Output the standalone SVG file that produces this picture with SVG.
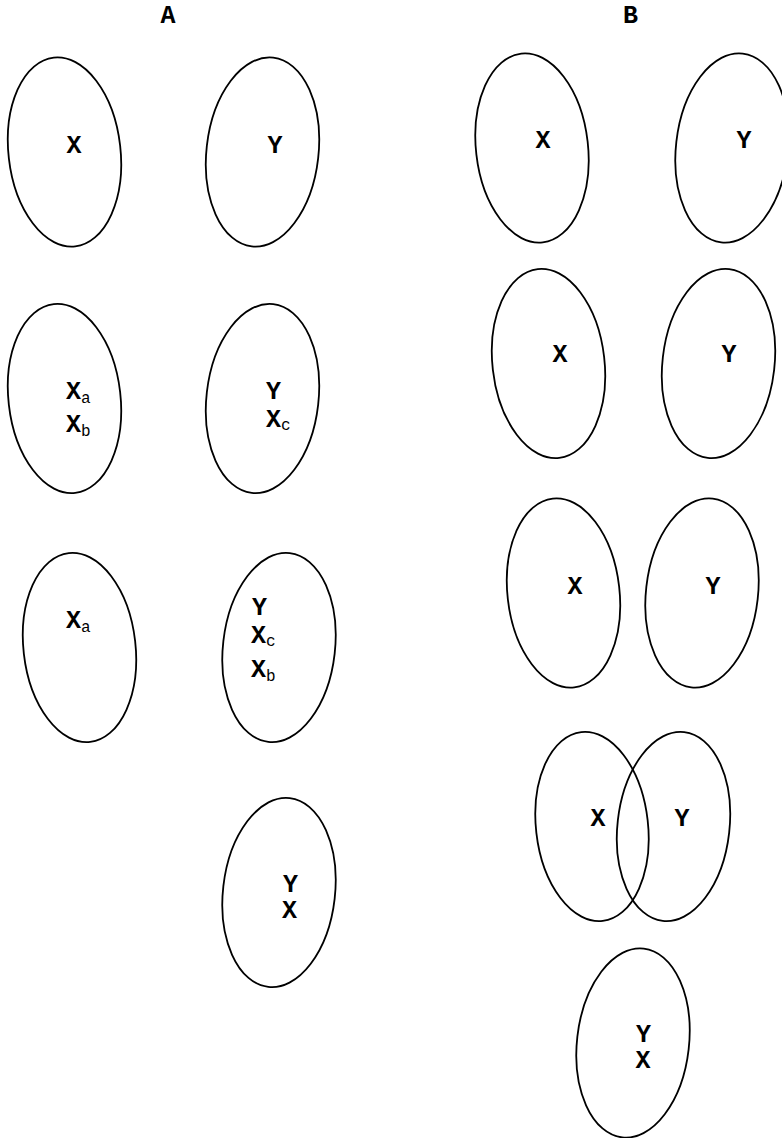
<svg xmlns="http://www.w3.org/2000/svg" width="782" height="1138" viewBox="0 0 782 1138">
<style>
.e{fill:none;stroke:#000;stroke-width:1.8}
.t{font-family:"Liberation Mono","Courier New",monospace;font-weight:bold;font-size:25px;fill:#000}
.c{text-anchor:middle}
.s{font-weight:normal;font-size:16px}
</style>
<rect width="782" height="1138" fill="#fff"/>
<g id="titles">
<text class="t c" x="168" y="23">A</text>
<text class="t c" x="630.5" y="23">B</text>
</g>
<g id="connectors"></g>
<g id="a1x"><ellipse class="e" cx="0" cy="0" rx="56" ry="95" transform="translate(64.5 152) rotate(-6.5)"/><text class="t c" x="74" y="153">X</text></g>
<g id="a1y"><ellipse class="e" cx="0" cy="0" rx="56" ry="95" transform="translate(262.5 152) rotate(6.5)"/><text class="t c" x="275" y="153">Y</text></g>
<g id="b1x"><ellipse class="e" cx="0" cy="0" rx="56" ry="95" transform="translate(532 148) rotate(-6.5)"/><text class="t c" x="543" y="148">X</text></g>
<g id="b1y"><ellipse class="e" cx="0" cy="0" rx="56" ry="95" transform="translate(732 148) rotate(6.5)"/><text class="t c" x="744" y="148">Y</text></g>
<g id="a2l"><ellipse class="e" cx="0" cy="0" rx="56" ry="95" transform="translate(64.5 398.5) rotate(-6.5)"/>
<text class="t" x="66" y="399">X<tspan class="s" dy="4">a</tspan></text>
<text class="t" x="66" y="432">X<tspan class="s" dy="4">b</tspan></text></g>
<g id="a2r"><ellipse class="e" cx="0" cy="0" rx="56" ry="95" transform="translate(262.5 398.5) rotate(6.5)"/>
<text class="t" x="266" y="399">Y</text>
<text class="t" x="266" y="427">X<tspan class="s" dy="3">c</tspan></text></g>
<g id="a3l"><ellipse class="e" cx="0" cy="0" rx="56" ry="95" transform="translate(79.5 647.5) rotate(-6.5)"/>
<text class="t" x="66" y="628">X<tspan class="s" dy="4">a</tspan></text></g>
<g id="a3r"><ellipse class="e" cx="0" cy="0" rx="56" ry="95" transform="translate(279 647.5) rotate(6.5)"/>
<text class="t" x="252" y="615">Y</text>
<text class="t" x="251" y="643">X<tspan class="s" dy="3">c</tspan></text>
<text class="t" x="251" y="677">X<tspan class="s" dy="4">b</tspan></text></g>
<g id="a4"><ellipse class="e" cx="0" cy="0" rx="56" ry="95" transform="translate(279 892.5) rotate(6.5)"/>
<text class="t c" x="290.5" y="892">Y</text>
<text class="t c" x="289.5" y="918">X</text></g>
<g id="b2x"><ellipse class="e" cx="0" cy="0" rx="56" ry="95" transform="translate(548.5 363.5) rotate(-6.5)"/><text class="t c" x="560" y="362">X</text></g>
<g id="b2y"><ellipse class="e" cx="0" cy="0" rx="56" ry="95" transform="translate(718.5 363.5) rotate(6.5)"/><text class="t c" x="729" y="362">Y</text></g>
<g id="b3x"><ellipse class="e" cx="0" cy="0" rx="56" ry="95" transform="translate(563.5 593) rotate(-6.5)"/><text class="t c" x="575" y="594">X</text></g>
<g id="b3y"><ellipse class="e" cx="0" cy="0" rx="56" ry="95" transform="translate(702 593) rotate(6.5)"/><text class="t c" x="713" y="594">Y</text></g>
<g id="b4x"><ellipse class="e" cx="0" cy="0" rx="56" ry="95" transform="translate(592 826.5) rotate(-6.5)"/><text class="t c" x="598" y="826">X</text></g>
<g id="b4y"><ellipse class="e" cx="0" cy="0" rx="56" ry="95" transform="translate(673.5 826.5) rotate(6.5)"/><text class="t c" x="682" y="826">Y</text></g>
<g id="b5"><ellipse class="e" cx="0" cy="0" rx="56" ry="95" transform="translate(633 1043) rotate(6.5)"/>
<text class="t c" x="643.5" y="1042">Y</text>
<text class="t c" x="643" y="1068">X</text></g>
</svg>
